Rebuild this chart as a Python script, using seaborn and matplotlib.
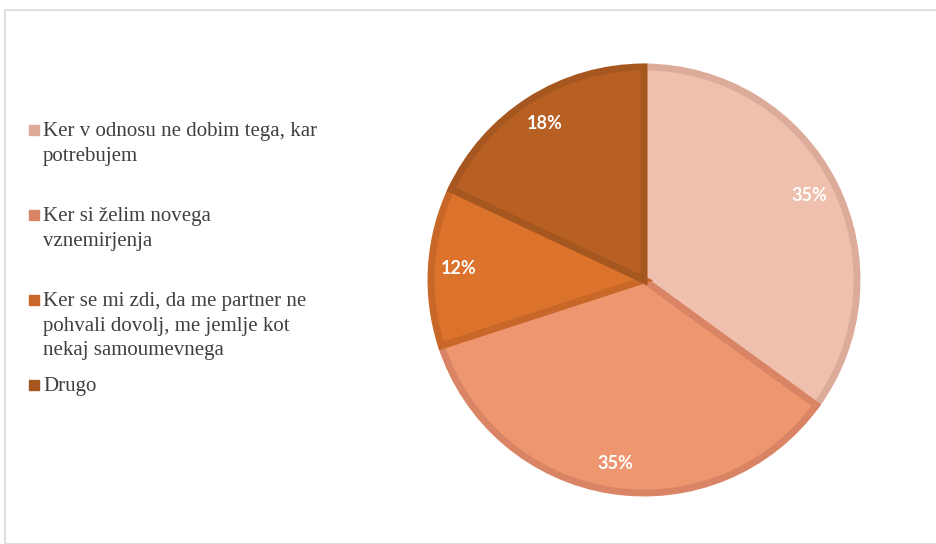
import matplotlib
matplotlib.use("Agg")
import numpy as np
import matplotlib.pyplot as plt
from matplotlib.patches import Rectangle
from matplotlib.lines import Line2D
import seaborn as sns

# Data
labels = [
    "Ker v odnosu ne dobim tega, kar\npotrebujem",
    "Ker si želim novega\nvznemirjenja",
    "Ker se mi zdi, da me partner ne\npohvali dovolj, me jemlje kot\nnekaj samoumevnega",
    "Drugo",
]
shares = [35, 35, 12, 18]
pct_text = ["35%", "35%", "12%", "18%"]
fills = ["#F0C0AE", "#EE9670", "#DC732C", "#B86024"]
edges = ["#DDAB99", "#D98565", "#C96728", "#A65720"]

sns.set_theme(style="white")
plt.rcParams["font.family"] = ["Liberation Serif", "DejaVu Serif"]

W, H = 936, 544
fig = plt.figure(figsize=(W / 100, H / 100), dpi=100)

# outer chart border
fig.patches.append(Rectangle((5 / W, 0), 1.0, 1 - 10 / H, transform=fig.transFigure,
                             fill=False, edgecolor="#D9D9D9", linewidth=1.2))

# pie axes: centre (644, 280), radius 213 px
cx, cy, r = 644, 280, 213
lim = 1.03
half = r * lim
ax = fig.add_axes([(cx - half) / W, (H - cy - half) / H, 2 * half / W, 2 * half / H])
wedges, texts = ax.pie(shares, colors=fills, startangle=90, counterclock=False,
                       radius=1.0, wedgeprops=dict(linewidth=5))
for w, ec in zip(wedges, edges):
    w.set_edgecolor(ec)
    w.set_joinstyle("miter")

# percentage labels
ang = 90.0
for val, txt in zip(shares, pct_text):
    mid = np.deg2rad(ang - val * 3.6 / 2)
    ang -= val * 3.6
    ax.text(0.87 * np.cos(mid), 0.87 * np.sin(mid), txt, ha="center", va="center",
            color="white", fontsize=13, fontweight="bold", family="Lato")
ax.set_xlim(-lim, lim)
ax.set_ylim(-lim, lim)
ax.set_aspect("equal")
ax.axis("off")

# legend (manual, to match uneven spacing)
entry_y = [130, 215, 300, 385]
for lab, ec, y in zip(labels, edges, entry_y):
    fig.lines.append(Line2D([34 / W], [1 - y / H], marker="s", markersize=6.5,
                            color=ec, transform=fig.transFigure))
    fig.text(43 / W, 1 - (y - 8) / H, lab, ha="left", va="top", fontsize=15,
             color="#404040", linespacing=1.4)

fig.savefig("out.png", dpi=100)
